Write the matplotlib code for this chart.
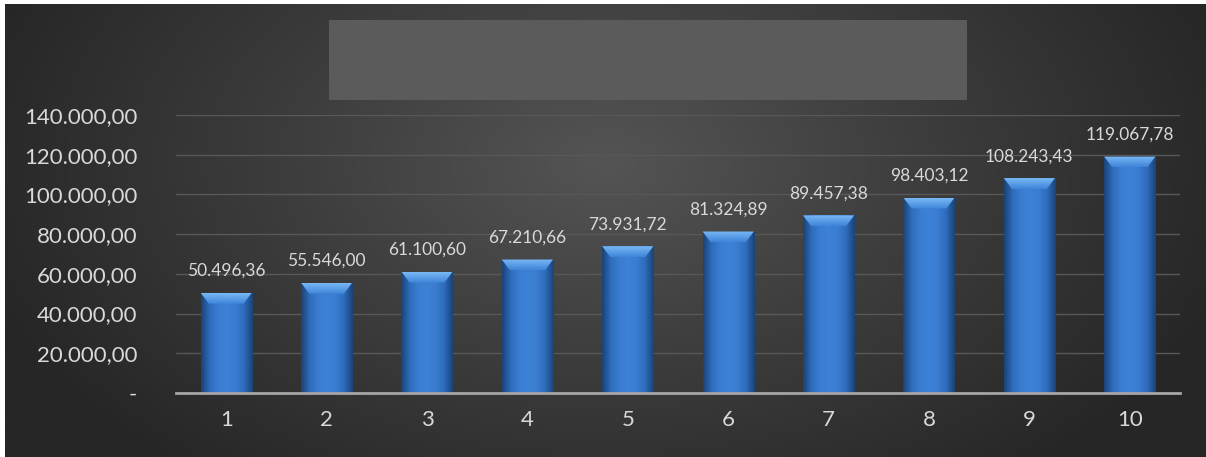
import numpy as np
import matplotlib.pyplot as plt
from matplotlib.colors import LinearSegmentedColormap
from matplotlib.patches import Rectangle, Polygon

anos = [str(i) for i in range(1, 11)]
valores = [50496.36, 55546.00, 61100.60, 67210.66, 73931.72,
           81324.89, 89457.38, 98403.12, 108243.43, 119067.78]
y_ticks = [0, 20000, 40000, 60000, 80000, 100000, 120000, 140000]


def fmt_br(v):
    if v == 0:
        return '-'
    s = f'{v:,.2f}'
    return s.replace(',', 'X').replace('.', ',').replace('X', '.')


plt.rcParams['font.family'] = ['Lato', 'DejaVu Sans']

W, H = 1206, 457
fig = plt.figure(figsize=(W / 100, H / 100), dpi=100)
fig.patch.set_facecolor('white')

# fundo com gradiente radial
bg = fig.add_axes([5 / W, 0, 1 - 5 / W, 1 - 4 / H])
bg.set_axis_off()
yy, xx = np.mgrid[0:1:200j, 0:1:400j]
r = np.sqrt(((xx - 0.5) / 0.55) ** 2 + ((yy - 0.35) / 0.9) ** 2)
r = np.clip(r, 0, 1)
cmap_bg = LinearSegmentedColormap.from_list('bg', ['#545454', '#3c3c3c', '#262626'])
bg.imshow(r, cmap=cmap_bg, aspect='auto', extent=[0, 1, 0, 1], origin='upper')
bg.set_xlim(0, 1)
bg.set_ylim(0, 1)
# caixa cinza do título
bg.add_patch(Rectangle(((329 - 5) / (W - 5), 1 - (100 - 4) / (H - 4)),
                       (967 - 329) / (W - 5), 80 / (H - 4),
                       facecolor='#5b5b5b', edgecolor='none'))

ax = fig.add_axes([176 / W, (H - 393) / H, (1180 - 176) / W, (393 - 115) / H])
ax.set_facecolor('none')
x = np.arange(len(anos))
bars = ax.bar(x, valores, width=0.51, color='#3a78c8', zorder=3)
ax.set_yticks(y_ticks)
ax.set_yticklabels([fmt_br(v) for v in y_ticks])
ax.set_xticks(x)
ax.set_xticklabels(anos)
ax.tick_params(axis='y', length=0, labelsize=16, colors='#d9d9d9', pad=28)
ax.tick_params(axis='x', length=0, labelsize=16, colors='#d9d9d9', pad=12)
for s in ['top', 'right', 'left']:
    ax.spines[s].set_visible(False)
ax.spines['bottom'].set_color('#a6a6a6')
ax.spines['bottom'].set_linewidth(2)
ax.spines['bottom'].set_zorder(5)
ax.grid(axis='y', color='#585858', linewidth=1, zorder=0)
ax.set_axisbelow(True)

# gradiente nas barras
cmap_bar = LinearSegmentedColormap.from_list(
    'bar', ['#1b4478', '#2f6cbc', '#3a7dd2', '#3d82d6', '#3a7dd2', '#2f6cbc', '#1b4478'])
cmap_top = LinearSegmentedColormap.from_list('top', ['#3f85d8', '#78b8f6'])
grad = np.linspace(0, 1, 100).reshape(1, -1)
vgrad = np.linspace(1, 0, 50).reshape(-1, 1)
for b in bars:
    x0, w, h = b.get_x(), b.get_width(), b.get_height()
    im = ax.imshow(grad, cmap=cmap_bar, aspect='auto', extent=[x0, x0 + w, 0, h],
                   zorder=4)
    im.set_clip_path(b)
    d = 0.16 * w
    dh = 5500
    bevel = Polygon([(x0, h), (x0 + w, h), (x0 + w - d, h - dh), (x0 + d, h - dh)],
                    closed=True, facecolor='none', edgecolor='none', zorder=5)
    ax.add_patch(bevel)
    im2 = ax.imshow(vgrad, cmap=cmap_top, aspect='auto', origin='upper',
                    extent=[x0, x0 + w, h - dh, h], zorder=5)
    im2.set_clip_path(bevel)
    ax.text(x0 + w / 2, h + 7000, fmt_br(h), ha='center', va='bottom',
            fontsize=12.5, color='#d9d9d9', zorder=6)

ax.set_xlim(-0.5, len(anos) - 0.5)
ax.set_ylim(0, 140000)

fig.savefig('out.png', dpi=100, facecolor=fig.get_facecolor())
